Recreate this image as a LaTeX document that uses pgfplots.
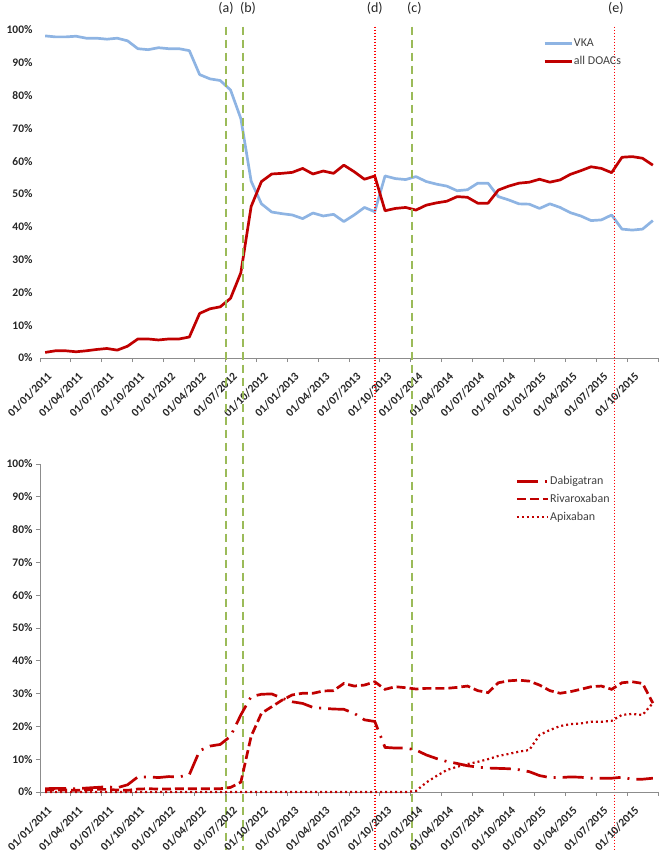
\documentclass[border=0pt]{standalone}
\usepackage{fontspec}
\setmainfont{Carlito}
\usepackage{pgfplots}
\pgfplotsset{compat=1.18}
\usepackage{pgfplotstable}

\definecolor{vka}{HTML}{8EB4E3}
\definecolor{doac}{HTML}{C00000}
\definecolor{vgreen}{HTML}{9BBB59}
\definecolor{vred}{HTML}{FF0000}
\definecolor{axgray}{HTML}{8C8C8C}
\definecolor{txt}{HTML}{262626}
\definecolor{legtxt}{HTML}{404040}

\pgfplotstableread{
i vka doac dabi riva apix
0 98.2 1.7 1.0 0.6 0
1 97.9 2.2 1.1 0.6 0
2 97.9 2.2 1.1 0.6 0
3 98.1 1.9 1.0 0.5 0
4 97.5 2.2 1.2 0.6 0
5 97.5 2.6 1.4 0.8 0
6 97.2 2.9 1.6 0.8 0
7 97.5 2.4 1.3 0.6 0
8 96.7 3.6 2.2 0.5 0
9 94.3 5.8 4.6 0.9 0
10 94.0 5.8 4.6 1.0 0
11 94.6 5.5 4.4 0.9 0
12 94.3 5.8 4.7 0.9 0
13 94.3 5.8 4.6 1.0 0
14 93.7 6.4 5.3 1.0 0
15 86.4 13.6 12.6 1.0 0
16 85.1 15.0 14.0 1.0 0
17 84.6 15.6 14.5 1.0 0
18 81.7 18.2 17.0 1.4 0
19 73.0 26.0 23.5 3.0 0
20 53.9 46.2 29.1 17.0 0
21 47.0 53.8 29.8 24.0 0
22 44.5 56.1 29.9 26.0 0
23 44.0 56.3 28.6 28.0 0
24 43.6 56.6 27.5 29.6 0
25 42.5 57.8 27.0 30.1 0
26 44.2 56.1 25.8 30.1 0
27 43.3 57.0 25.5 30.8 0
28 43.8 56.3 25.3 30.9 0
29 41.6 58.8 25.2 33.1 0
30 43.6 56.8 24.0 32.3 0
31 45.9 54.5 22.0 32.6 0
32 44.6 55.5 21.5 33.6 0
33 55.5 44.9 13.6 31.3 0
34 54.7 45.6 13.4 32.1 0
35 54.4 45.9 13.4 31.8 0
36 55.3 45.1 12.8 31.4 0.3
37 53.8 46.6 11.3 31.6 2.9
38 53.0 47.3 10.2 31.6 4.9
39 52.4 47.8 9.3 31.6 6.7
40 51.0 49.2 8.7 31.9 7.7
41 51.3 49.0 8.0 32.3 8.5
42 53.3 47.2 7.6 30.9 9.2
43 53.3 47.2 7.3 30.3 10.0
44 49.2 51.2 7.2 33.3 11.0
45 48.2 52.4 7.1 33.9 11.6
46 47.0 53.3 6.8 34.1 12.3
47 46.9 53.6 6.2 33.8 12.8
48 45.6 54.5 5.0 32.6 17.4
49 47.0 53.6 4.4 30.9 18.9
50 45.9 54.3 4.4 30.1 20.1
51 44.3 56.0 4.6 30.6 20.7
52 43.3 57.1 4.5 31.3 20.9
53 41.9 58.3 4.2 32.1 21.4
54 42.1 57.8 4.2 32.3 21.4
55 43.6 56.5 4.2 31.3 21.7
56 39.3 61.2 4.5 33.3 23.5
57 39.0 61.4 3.9 33.6 23.8
58 39.3 60.9 3.9 33.1 23.5
59 41.9 58.8 4.2 27.1 27.1
}\data

\pgfplotsset{
  panel/.style={
    scale only axis, width=618pt, height=328pt,
    xmin=-0.5, xmax=59.5, ymin=0, ymax=100,
    axis lines*=left,
    axis line style={axgray, line width=0.9pt, -},
    xtick={0,3,...,57},
    xticklabels={01/01/2011,01/04/2011,01/07/2011,01/10/2011,01/01/2012,01/04/2012,01/07/2012,01/10/2012,01/01/2013,01/04/2013,01/07/2013,01/10/2013,01/01/2014,01/04/2014,01/07/2014,01/10/2014,01/01/2015,01/04/2015,01/07/2015,01/10/2015},
    minor xtick={-0.5,2.5,...,59.5},
    tick align=outside,
    major tick length=4pt, minor tick length=4pt,
    major x tick style={draw=none},
    minor x tick style={axgray, line width=0.9pt},
    ytick={0,10,...,100},
    yticklabels={0\%,10\%,20\%,30\%,40\%,50\%,60\%,70\%,80\%,90\%,100\%},
    ytick style={axgray, line width=0.9pt},
    xticklabel style={xshift=1.5pt, yshift=-8pt, rotate=45, anchor=north east, font=\bfseries\fontsize{11.5}{13}\selectfont, text=txt, inner sep=1pt},
    yticklabel style={font=\bfseries\fontsize{11.5}{13}\selectfont, text=txt},
    clip=false,
    legend cell align=left,
  }
}

\begin{document}
\begin{tikzpicture}
\useasboundingbox (0,0) rectangle (661pt,852pt);
% top panel
\begin{axis}[panel, at={(40pt,494pt)}, anchor=south west,
  y axis line style={draw=none}, ytick style={draw=none},
  legend style={at={(axis description cs:0.814,0.976)}, anchor=north west, draw=none, fill=none,
    font=\fontsize{12}{14}\selectfont, text=legtxt, row sep=6pt, inner sep=0pt,
    nodes={inner sep=1pt}},
  legend image code/.code={\draw[#1] (0pt,0pt) -- (27pt,0pt);},
]
\addplot[vka, line width=2.7pt, line join=round] table[x=i,y=vka]{\data};
\addplot[doac, line width=2.7pt, line join=round] table[x=i,y=doac]{\data};
\legend{VKA, all DOACs}
\draw[vgreen, line width=1.8pt, dash pattern=on 8pt off 5pt] (axis cs:17.55,101) -- (axis cs:17.55,-150);
\draw[vgreen, line width=1.8pt, dash pattern=on 8pt off 5pt] (axis cs:19.2,101) -- (axis cs:19.2,-150);
\draw[vgreen, line width=1.8pt, dash pattern=on 8pt off 5pt] (axis cs:35.6,101) -- (axis cs:35.6,-150);
\draw[vred, line width=1.5pt, dash pattern=on 1.5pt off 1.5pt] (axis cs:32.0,101) -- (axis cs:32.0,-150);
\draw[vred, line width=1.5pt, dash pattern=on 1.5pt off 1.5pt] (axis cs:55.3,101) -- (axis cs:55.3,-150);
\node[font=\fontsize{14}{16}\selectfont, text=txt] at (axis cs:17.55,106.7) {(a)};
\node[font=\fontsize{14}{16}\selectfont, text=txt] at (axis cs:19.7,106.7) {(b)};
\node[font=\fontsize{14}{16}\selectfont, text=txt] at (axis cs:32.0,106.7) {(d)};
\node[font=\fontsize{14}{16}\selectfont, text=txt] at (axis cs:35.85,106.7) {(c)};
\node[font=\fontsize{14}{16}\selectfont, text=txt] at (axis cs:55.4,106.7) {(e)};
\end{axis}
% bottom panel
\begin{axis}[panel, at={(40pt,60pt)}, anchor=south west,
  legend style={at={(axis description cs:0.769,0.966)}, anchor=north west, draw=none, fill=none,
    font=\fontsize{12}{14}\selectfont, text=legtxt, row sep=6pt, inner sep=0pt,
    nodes={inner sep=1pt}},
  legend image code/.code={\draw[#1] (0pt,0pt) -- (31pt,0pt);},
  /tikz/every even column/.append style={column sep=5pt},
]
\addplot[doac, line width=2.7pt, dash pattern=on 21pt off 7pt on 2pt off 7pt] table[x=i,y=dabi]{\data};
\addplot[doac, line width=2.7pt, dash pattern=on 9pt off 4pt] table[x=i,y=riva]{\data};
\addplot[doac, line width=2.2pt, dash pattern=on 2pt off 3pt] table[x=i,y=apix]{\data};
\legend{Dabigatran, Rivaroxaban, Apixaban}
\end{axis}
\end{tikzpicture}
\end{document}
